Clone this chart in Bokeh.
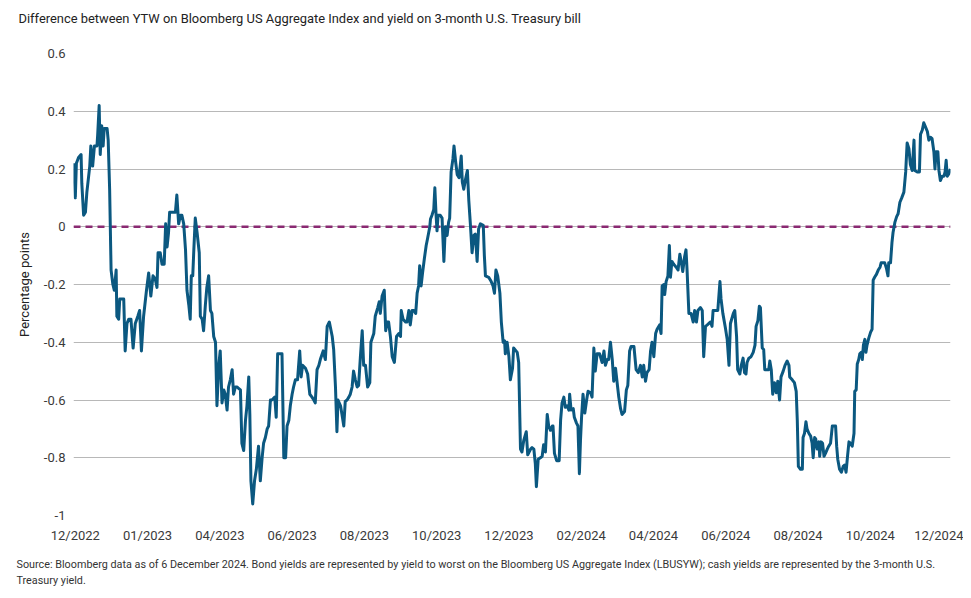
from bokeh.plotting import figure
from bokeh.models import FixedTicker, Span, Range1d
from bokeh.layouts import column
from bokeh.embed import file_html
from bokeh.resources import INLINE

# ---- data (x = months since first tick "12/2022", y = percentage points) ----
months_1 = [-0.05, 0.00, 0.03, 0.09, 0.16, 0.18, 0.23, 0.28, 0.32, 0.40, 0.43, 0.48, 0.53, 0.60, 0.62, 0.66,
            0.69, 0.73, 0.77, 0.80, 0.88, 0.91, 0.95, 0.99, 1.04, 1.08, 1.13, 1.15, 1.20, 1.23, 1.34, 1.38,
            1.43, 1.48, 1.54, 1.60, 1.66, 1.73, 1.78, 1.83, 1.89, 1.97, 2.03, 2.09, 2.15, 2.21, 2.26, 2.29,
            2.35, 2.40, 2.46, 2.50, 2.54, 2.58, 2.61, 2.68, 2.72, 2.77, 2.81, 2.86, 2.91, 2.95, 3.00, 3.05,
            3.09, 3.14, 3.18, 3.21, 3.25, 3.28, 3.32, 3.37, 3.43, 3.46, 3.51, 3.55, 3.60, 3.64, 3.69, 3.74, 3.78]
spread_1 = [0.22, 0.10, 0.22, 0.24, 0.25, 0.15, 0.04, 0.05, 0.12, 0.21, 0.28, 0.21, 0.28, 0.28, 0.32, 0.42,
            0.25, 0.35, 0.28, 0.34, 0.34, 0.30, 0.13, -0.15, -0.20, -0.22, -0.15, -0.31, -0.32, -0.25, -0.25, -0.43,
            -0.335, -0.32, -0.32, -0.42, -0.335, -0.31, -0.29, -0.43, -0.31, -0.22, -0.16, -0.24, -0.17, -0.18, -0.21, -0.09,
            -0.09, -0.13, -0.13, 0.01, -0.07, -0.02, 0.05, 0.05, 0.05, 0.05, 0.11, 0.01, 0.04, 0.04, 0.01, -0.08,
            -0.22, -0.27, -0.32, -0.17, -0.17, -0.08, 0.03, -0.02, -0.09, -0.31, -0.32, -0.36, -0.27, -0.21, -0.17, -0.29, -0.30]

months_2 = [3.83, 3.88, 3.92, 3.97, 4.01, 4.06, 4.11, 4.15, 4.20, 4.24, 4.29, 4.34, 4.38, 4.43, 4.48, 4.52,
            4.57, 4.61, 4.66, 4.71, 4.75, 4.80, 4.83, 4.86, 4.91, 4.96, 5.01, 5.07, 5.12, 5.17, 5.21, 5.26,
            5.31, 5.35, 5.40, 5.44, 5.52, 5.56, 5.60, 5.67, 5.72, 5.77, 5.82, 5.86, 5.91, 5.95, 6.00, 6.04,
            6.09, 6.15, 6.21, 6.25, 6.29, 6.37, 6.43, 6.49, 6.55, 6.60, 6.64, 6.69, 6.74, 6.78, 6.86, 6.92,
            6.97, 7.03, 7.11, 7.15, 7.20, 7.24, 7.27, 7.34, 7.38, 7.43, 7.47, 7.52, 7.57, 7.61, 7.66, 7.70,
            7.75, 7.80, 7.84, 7.89, 7.94, 7.98, 8.03, 8.09, 8.15, 8.18, 8.26, 8.30, 8.37, 8.41, 8.44, 8.49,
            8.55, 8.59, 8.63, 8.67, 8.72, 8.77, 8.83, 8.89, 8.95, 9.00, 9.02, 9.07, 9.14, 9.18, 9.23, 9.27,
            9.32, 9.37, 9.42, 9.46, 9.50, 9.53, 9.57, 9.61, 9.66, 9.71, 9.75, 9.81]
spread_2 = [-0.38, -0.40, -0.62, -0.48, -0.43, -0.61, -0.565, -0.58, -0.635, -0.555, -0.53, -0.495, -0.58, -0.555, -0.555, -0.56,
            -0.565, -0.75, -0.775, -0.67, -0.62, -0.52, -0.65, -0.88, -0.96, -0.88, -0.84, -0.76, -0.88, -0.80, -0.75, -0.73,
            -0.70, -0.69, -0.60, -0.60, -0.59, -0.66, -0.44, -0.44, -0.44, -0.80, -0.80, -0.69, -0.67, -0.62, -0.58, -0.555,
            -0.53, -0.53, -0.43, -0.52, -0.48, -0.49, -0.51, -0.58, -0.59, -0.60, -0.61, -0.495, -0.48, -0.46, -0.43, -0.46,
            -0.345, -0.33, -0.38, -0.425, -0.555, -0.71, -0.60, -0.62, -0.65, -0.69, -0.605, -0.60, -0.59, -0.58, -0.555, -0.50,
            -0.53, -0.555, -0.55, -0.45, -0.36, -0.48, -0.48, -0.555, -0.54, -0.40, -0.37, -0.31, -0.28, -0.26, -0.30, -0.24,
            -0.22, -0.36, -0.33, -0.33, -0.38, -0.45, -0.47, -0.38, -0.37, -0.38, -0.29, -0.32, -0.33, -0.33, -0.29, -0.34,
            -0.29, -0.29, -0.30, -0.23, -0.205, -0.135, -0.205, -0.16, -0.11, -0.065, -0.04, 0.0]

months_3 = [9.83, 9.87, 9.92, 9.95, 9.98, 10.01, 10.04, 10.10, 10.15, 10.20, 10.24, 10.29, 10.33, 10.36, 10.40, 10.45,
            10.48, 10.53, 10.57, 10.62, 10.68, 10.71, 10.75, 10.80, 10.85, 10.89, 10.93, 10.98, 11.03, 11.07, 11.12, 11.16,
            11.21, 11.29, 11.32, 11.35, 11.44, 11.51, 11.56, 11.60, 11.64, 11.69, 11.75, 11.79, 11.84, 11.88, 11.90, 11.95,
            12.00, 12.04, 12.10, 12.13, 12.23, 12.27, 12.32, 12.36, 12.41, 12.48, 12.52, 12.60, 12.64, 12.69, 12.73, 12.76,
            12.81, 12.87, 12.92, 12.96, 13.01, 13.06]
spread_3 = [0.027, 0.04, 0.06, 0.135, 0.05, -0.014, 0.04, 0.04, 0.03, -0.12, 0.0, -0.03, 0.015, 0.03, 0.19, 0.235,
            0.28, 0.22, 0.18, 0.17, 0.245, 0.155, 0.13, 0.165, 0.195, 0.09, 0.015, -0.09, -0.03, -0.025, -0.12, -0.008,
            0.01, 0.005, -0.10, -0.17, -0.175, -0.19, -0.205, -0.23, -0.15, -0.17, -0.23, -0.33, -0.40, -0.395, -0.44, -0.40,
            -0.45, -0.53, -0.49, -0.42, -0.435, -0.47, -0.77, -0.78, -0.74, -0.71, -0.79, -0.77, -0.765, -0.77, -0.82, -0.90,
            -0.805, -0.80, -0.795, -0.755, -0.78, -0.65]

months_4 = [13.10, 13.15, 13.20, 13.22, 13.26, 13.32, 13.39, 13.43, 13.47, 13.52, 13.56, 13.61, 13.66, 13.68, 13.72, 13.78,
            13.81, 13.87, 13.91, 13.95, 13.98, 14.01, 14.05, 14.10, 14.15, 14.19, 14.26, 14.30, 14.35, 14.39, 14.44, 14.51,
            14.58, 14.63, 14.67, 14.72, 14.76, 14.81, 14.86, 14.90, 14.95, 14.99, 15.04, 15.09, 15.13, 15.20, 15.25, 15.29,
            15.34, 15.38, 15.46, 15.52, 15.58, 15.64, 15.69, 15.73, 15.78, 15.82, 15.88, 15.92, 15.96, 16.01, 16.06, 16.10,
            16.17, 16.21, 16.24, 16.29, 16.31, 16.35, 16.40, 16.44, 16.47, 16.51, 16.56, 16.63, 16.68, 16.73, 16.78, 16.81,
            16.86, 16.90, 16.93, 16.98, 17.04, 17.10, 17.14, 17.19, 17.23, 17.30, 17.35, 17.39, 17.44, 17.49, 17.53, 17.58,
            17.62, 17.65, 17.72, 17.78, 17.84, 17.87, 17.92, 17.99, 18.04, 18.09, 18.13]
spread_4 = [-0.69, -0.705, -0.69, -0.69, -0.785, -0.81, -0.81, -0.67, -0.61, -0.59, -0.625, -0.62, -0.635, -0.58, -0.635, -0.63,
            -0.66, -0.68, -0.69, -0.855, -0.74, -0.66, -0.58, -0.645, -0.60, -0.57, -0.575, -0.59, -0.42, -0.50, -0.44, -0.44,
            -0.47, -0.43, -0.48, -0.46, -0.46, -0.40, -0.46, -0.535, -0.49, -0.535, -0.59, -0.63, -0.65, -0.64, -0.565, -0.55,
            -0.43, -0.415, -0.415, -0.495, -0.505, -0.48, -0.52, -0.48, -0.535, -0.505, -0.495, -0.43, -0.40, -0.45, -0.37, -0.355,
            -0.34, -0.37, -0.205, -0.20, -0.235, -0.19, -0.17, -0.065, -0.175, -0.12, -0.13, -0.14, -0.15, -0.095, -0.13, -0.155,
            -0.105, -0.08, -0.15, -0.30, -0.30, -0.33, -0.29, -0.33, -0.29, -0.28, -0.29, -0.45, -0.345, -0.34, -0.335, -0.33,
            -0.345, -0.29, -0.29, -0.29, -0.19, -0.25, -0.30, -0.35, -0.39, -0.48, -0.335]

months_5 = [18.21, 18.25, 18.30, 18.33, 18.39, 18.43, 18.48, 18.52, 18.56, 18.59, 18.64, 18.70, 18.76, 18.81, 18.84, 18.89,
            18.93, 18.96, 19.01, 19.05, 19.08, 19.15, 19.19, 19.22, 19.26, 19.30, 19.35, 19.40, 19.44, 19.49, 19.53, 19.59,
            19.64, 19.70, 19.75, 19.77, 19.84, 19.90, 19.95, 19.98, 20.01, 20.07, 20.12, 20.14, 20.18, 20.22, 20.25, 20.30,
            20.35, 20.39, 20.42, 20.46, 20.49, 20.53, 20.58, 20.60, 20.64, 20.68, 20.72, 20.76, 20.81, 20.85, 20.90, 20.95,
            20.99, 21.04, 21.07, 21.10, 21.15, 21.20, 21.25, 21.29, 21.33, 21.37, 21.41, 21.45, 21.50, 21.55, 21.57, 21.61,
            21.64, 21.68, 21.71, 21.75, 21.78, 21.81, 21.85, 21.88, 21.91, 21.96, 22.01, 22.05, 22.08, 22.12, 22.17, 22.22,
            22.27, 22.30, 22.36, 22.40, 22.45, 22.49, 22.51, 22.56, 22.60, 22.63, 22.68, 22.73, 22.77, 22.82, 22.87, 22.93,
            22.98, 23.02, 23.07, 23.11, 23.16, 23.21, 23.23, 23.30, 23.36, 23.39, 23.44, 23.48, 23.53, 23.58, 23.62, 23.67,
            23.71, 23.76, 23.79, 23.82, 23.87, 23.90, 23.94, 23.99, 24.04, 24.07, 24.10, 24.13, 24.18, 24.22]
spread_5 = [-0.30, -0.29, -0.38, -0.495, -0.51, -0.48, -0.455, -0.505, -0.51, -0.47, -0.455, -0.45, -0.435, -0.41, -0.345, -0.325,
            -0.275, -0.28, -0.42, -0.425, -0.495, -0.495, -0.495, -0.465, -0.495, -0.58, -0.54, -0.575, -0.535, -0.60, -0.52, -0.50,
            -0.48, -0.465, -0.48, -0.52, -0.53, -0.54, -0.57, -0.67, -0.83, -0.84, -0.84, -0.73, -0.715, -0.675, -0.70, -0.715,
            -0.725, -0.75, -0.80, -0.73, -0.735, -0.77, -0.745, -0.795, -0.745, -0.75, -0.795, -0.785, -0.77, -0.76, -0.75, -0.69,
            -0.69, -0.69, -0.76, -0.805, -0.84, -0.85, -0.83, -0.825, -0.85, -0.795, -0.745, -0.75, -0.76, -0.715, -0.57, -0.565,
            -0.475, -0.46, -0.44, -0.435, -0.46, -0.41, -0.39, -0.435, -0.41, -0.385, -0.365, -0.355, -0.185, -0.175, -0.165, -0.15,
            -0.14, -0.125, -0.125, -0.125, -0.145, -0.17, -0.125, -0.125, -0.055, -0.02, 0.015, 0.035, 0.045, 0.085, 0.10, 0.12,
            0.19, 0.29, 0.27, 0.215, 0.195, 0.30, 0.195, 0.19, 0.19, 0.32, 0.335, 0.36, 0.345, 0.33, 0.30, 0.31,
            0.305, 0.26, 0.20, 0.26, 0.26, 0.195, 0.16, 0.175, 0.175, 0.19, 0.23, 0.175, 0.185, 0.20]

x_tick_pos = [0, 2, 4, 6, 8, 10, 12, 14, 16, 18, 20, 22, 24]
x_tick_labels = ["12/2022", "01/2023", "04/2023", "06/2023", "08/2023", "10/2023", "12/2023",
                 "02/2024", "04/2024", "06/2024", "08/2024", "10/2024", "12/2024"]
y_tick_pos = [-1.0, -0.8, -0.6, -0.4, -0.2, 0.0, 0.2, 0.4, 0.6]
y_tick_labels = ["-1", "-0.8", "-0.6", "-0.4", "-0.2", "0", "0.2", "0.4", "0.6"]

title_text = "Difference between YTW on Bloomberg US Aggregate Index and yield on 3-month U.S. Treasury bill"
y_label_text = "Percentage points"
footer_text = ("Source: Bloomberg data as of 6 December 2024. Bond yields are represented by yield to worst on the "
               "Bloomberg US Aggregate Index (LBUSYW); cash yields are represented by the 3-month U.S.\n"
               "Treasury yield.")

months = months_1 + months_2 + months_3 + months_4 + months_5
spread = spread_1 + spread_2 + spread_3 + spread_4 + spread_5
assert len(months) == len(spread), (len(months), len(spread))

FONT = "Roboto"
LINE_COLOR = "#0b5880"
ZERO_COLOR = "#8a2a72"
W = 963
FRAME_LEFT = 73


def text_panel(height, text, location, size, color, standoff, valign, offset):
    f = figure(width=W, height=height, x_range=Range1d(0, 1), y_range=Range1d(0, 1),
               x_axis_location=None, y_axis_location=None, toolbar_location=None,
               output_backend="svg", min_border=0, title=text, title_location=location,
               min_border_left=FRAME_LEFT, min_border_right=13)
    f.outline_line_color = None
    f.grid.visible = False
    f.title.text_font = FONT
    f.title.text_font_size = size
    f.title.text_font_style = "normal"
    f.title.text_color = color
    f.title.align = "left"
    f.title.offset = offset
    f.title.standoff = standoff
    f.title.vertical_align = valign
    f.title.text_line_height = 1.25
    return f


# header with title
head = text_panel(37, title_text, "above", "12.9px", "#222222", 19, "middle", 18 - FRAME_LEFT)

# main chart
p = figure(width=W, height=508, output_backend="svg", toolbar_location=None,
           x_range=Range1d(months[0], months[-1]), y_range=Range1d(-1.0, 0.6),
           min_border_left=FRAME_LEFT, min_border_right=13, min_border_top=16, min_border_bottom=28)
p.outline_line_color = None

p.xgrid.visible = False
p.ygrid.ticker = FixedTicker(ticks=y_tick_pos)
p.ygrid.grid_line_color = "#b8b8b8"
p.ygrid.grid_line_width = 1.2

p.yaxis.ticker = FixedTicker(ticks=y_tick_pos)
p.yaxis.major_label_overrides = dict(zip(y_tick_pos, y_tick_labels))
p.xaxis.ticker = FixedTicker(ticks=x_tick_pos)
p.xaxis.major_label_overrides = dict(zip(x_tick_pos, x_tick_labels))
for ax in (p.xaxis[0], p.yaxis[0]):
    ax.axis_line_color = None
    ax.major_tick_line_color = None
    ax.minor_tick_line_color = None
    ax.major_tick_in = 0
    ax.major_tick_out = 0
    ax.minor_tick_in = 0
    ax.minor_tick_out = 0
    ax.major_label_text_font = FONT
    ax.major_label_text_font_size = "13px"
    ax.major_label_text_color = "#3a3a3a"
p.yaxis.major_label_standoff = 8
p.xaxis.major_label_standoff = 12
p.yaxis.axis_label = y_label_text
p.yaxis.axis_label_text_font = FONT
p.yaxis.axis_label_text_font_size = "13px"
p.yaxis.axis_label_text_font_style = "normal"
p.yaxis.axis_label_text_color = "#222222"
p.yaxis.axis_label_standoff = 9

zero = Span(location=0, dimension="width", line_color=ZERO_COLOR, line_width=2.5,
            line_dash="7 5", level="underlay")
p.add_layout(zero)

p.line(months, spread, line_color=LINE_COLOR, line_width=3, line_join="round")

# footer with source note
foot = text_panel(45, footer_text, "below", "10.8px", "#333333", 3, "top", 16 - FRAME_LEFT)

layout = column(head, p, foot)
open("out.html", "w").write(file_html(layout, INLINE))
